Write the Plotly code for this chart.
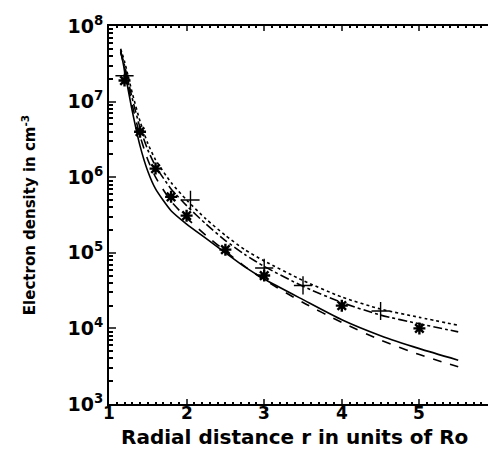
import plotly.graph_objects as go

r = [1.15, 1.2, 1.3, 1.4, 1.5, 1.6, 1.8, 2.0, 2.25, 2.5, 2.75, 3.0, 3.5, 4.0, 4.5, 5.0, 5.5]
solid = [4.8e7, 2.6e7, 7.5e6, 2.6e6, 1.2e6, 7.0e5, 3.6e5, 2.4e5, 1.55e5, 1.0e5, 6.5e4, 4.5e4, 2.4e4, 1.3e4, 8.0e3, 5.4e3, 3.8e3]
dashed = [4.5e7, 2.8e7, 9e6, 3.5e6, 1.7e6, 1.0e6, 4.8e5, 2.9e5, 1.7e5, 1.05e5, 6.6e4, 4.4e4, 2.2e4, 1.2e4, 7.0e3, 4.5e3, 3.1e3]
dotted = [5e7, 3.4e7, 1.3e7, 5.5e6, 2.8e6, 1.7e6, 8.5e5, 5.0e5, 2.8e5, 1.7e5, 1.1e5, 7.8e4, 4.3e4, 2.6e4, 1.8e4, 1.4e4, 1.1e4]
dashdot = [4.6e7, 3.0e7, 1.1e7, 4.5e6, 2.3e6, 1.4e6, 7.0e5, 4.2e5, 2.4e5, 1.45e5, 9.5e4, 6.6e4, 3.6e4, 2.2e4, 1.5e4, 1.15e4, 9.0e3]

star_r = [1.2, 1.4, 1.6, 1.8, 2.0, 2.5, 3.0, 4.0, 5.0]
star_n = [1.9e7, 4e6, 1.3e6, 5.5e5, 3.1e5, 1.1e5, 5e4, 2e4, 1.0e4]
plus_r = [1.2, 2.05, 3.0, 3.5, 4.5]
plus_n = [2.2e7, 5e5, 6.3e4, 3.7e4, 1.7e4]

ytick_exp = [3, 4, 5, 6, 7, 8]
xticks = [1, 2, 3, 4, 5, 6]
xtitle = "Radial distance r in units of Ro"
ytitle = "Electron density in cm<sup>-3</sup>"

FONT = "DejaVu Sans"

fig = go.Figure()
for ys, dash in [(solid, "solid"), (dashed, "dash"), (dotted, "dot"), (dashdot, "dashdot")]:
    fig.add_trace(go.Scatter(x=r, y=ys, mode="lines",
                             line=dict(color="black", width=1.6, dash=dash, shape="spline", smoothing=0.6),
                             showlegend=False))
fig.add_trace(go.Scatter(x=star_r, y=star_n, mode="markers",
                         marker=dict(symbol="asterisk-open", size=10, color="black", line=dict(color="black", width=2.4)),
                         showlegend=False))
fig.add_trace(go.Scatter(x=plus_r, y=plus_n, mode="markers",
                         marker=dict(symbol="cross-thin-open", size=13, color="black", line=dict(color="black", width=1.4)),
                         showlegend=False))

minor_y = [m * 10 ** e for e in ytick_exp[:-1] for m in range(2, 10)]

# x tick labels and title placed closer to the axis, as in the reference
for xv in xticks:
    fig.add_annotation(x=xv, y=0, xref="x", yref="paper", text="<b>%d</b>" % xv, showarrow=False,
                       yanchor="top", yshift=3, font=dict(size=17, family=FONT, color="black"))
fig.add_annotation(x=0.477, y=0, xref="paper", yref="paper", text="<b>%s</b>" % xtitle, showarrow=False,
                   yanchor="top", yshift=-19, font=dict(size=20, family=FONT, color="black"))

fig.update_layout(
    width=496, height=452,
    margin=dict(l=101, r=5, t=18, b=56),
    paper_bgcolor="white", plot_bgcolor="white",
    font=dict(family=FONT, color="black"),
    xaxis=dict(range=[1, 6], tickvals=xticks, showticklabels=False, ticks="inside", ticklen=5, tickwidth=1.5,
               showline=True, linecolor="black", linewidth=2, mirror="allticks", showgrid=False, zeroline=False,
               minor=dict(dtick=0.1, ticks="inside", ticklen=2, tickcolor="black", showgrid=False)),
    yaxis=dict(type="log", range=[3, 8], tickvals=[10 ** e for e in ytick_exp],
               ticktext=["10<sup>%d</sup>" % e for e in ytick_exp],
               ticks="inside", ticklen=7, tickwidth=1.5,
               showline=True, linecolor="black", linewidth=2, mirror="allticks", showgrid=False, zeroline=False,
               tickfont=dict(size=19, weight="bold"),
               title=dict(text=ytitle, font=dict(size=15, weight="bold"), standoff=28),
               minor=dict(tickvals=minor_y, ticks="inside", ticklen=4, tickcolor="black", showgrid=False)),
)
fig.write_html("out.html")
